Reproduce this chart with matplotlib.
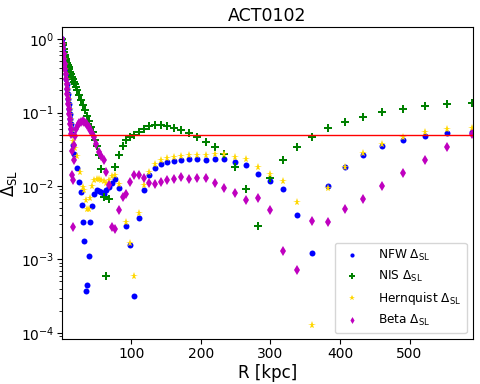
import matplotlib
matplotlib.use("Agg")
import matplotlib.pyplot as plt

# shared steep part near the centre
dense_delta = [1.0, 0.852, 0.729, 0.623, 0.532, 0.455, 0.389, 0.333, 0.284, 0.243,
               0.208, 0.177, 0.152, 0.130, 0.111, 0.0948, 0.0811, 0.0693, 0.0592, 0.0506]

nfw_r = [1.0, 1.7, 2.4, 3.2, 3.9, 4.6, 5.3, 6.0, 6.8, 7.5, 8.2, 8.9, 9.6, 10.4, 11.1, 11.8, 12.5, 13.2, 14.0, 14.7,
         16.4, 18.3, 21.6, 25.5, 27.9, 28.8, 30.2, 32.2, 34.5, 36.5,
         38.8, 41.3, 43.7, 47.1, 50.4, 53.2, 56.7, 60.4, 64.3, 68.6,
         72.9, 76.8, 82.0, 92.7, 98.4, 104.6, 111.8, 119.0, 126.2, 134.4,
         143.0, 151.7, 161.2, 171.8, 182.7, 194.2, 206.8, 219.7, 233.1, 248.6,
         264.3, 281.6, 298.8, 318.0, 338.1, 359.7, 382.7, 407.2, 433.1, 461.0,
         490.2, 521.9, 554.5, 590.5]
nfw = dense_delta + [
    0.0359, 0.0276, 0.0178, 0.0113, 0.0083, 0.00546, 0.00323, 0.00178, 0.000376, 0.000448,
    0.0011, 0.00323, 0.00529, 0.00787, 0.00873, 0.00855, 0.0083, 0.00787, 0.0087, 0.0097,
    0.0109, 0.0123, 0.0094, 0.00282, 0.00159, 0.000317, 0.00371, 0.00873, 0.0140, 0.0178,
    0.0202, 0.0212, 0.0219, 0.0224, 0.0236, 0.0236, 0.0229, 0.0235, 0.0231, 0.0215,
    0.0196, 0.01476, 0.0117, 0.0090, 0.00408, 0.00122, 0.0101, 0.0182, 0.0268, 0.0347,
    0.042, 0.048, 0.0522, 0.0544]

nis_r = [1.0, 1.7, 2.4, 3.1, 3.9, 4.6, 5.3, 6.0, 6.8, 7.8, 8.9, 10.0, 11.1, 12.5, 13.9, 15.3, 16.8, 18.2, 19.7, 21.1,
         22.6, 25.5, 28.3, 31.2, 34.1, 37.0, 39.9, 42.7, 45.6, 48.5,
         50.6, 53.2, 56.7, 60.4, 64.3, 68.6, 76.8, 82.0, 87.8, 92.7,
         98.8, 104.6, 111.8, 119.0, 126.2, 134.4, 143.0, 151.7, 161.2, 171.8,
         182.7, 194.2, 206.8, 219.7, 233.1, 248.6, 264.3, 281.6, 298.8, 318.0,
         338.1, 359.7, 382.7, 407.2, 433.1, 461.0, 490.2, 521.9, 554.5, 590.5]
nis = [1.0, 0.90, 0.826, 0.74, 0.66, 0.61, 0.57, 0.535, 0.50, 0.47, 0.44, 0.415, 0.39, 0.36, 0.33, 0.305, 0.284, 0.263, 0.243, 0.222,
       0.201, 0.172, 0.147, 0.126, 0.107, 0.089, 0.076, 0.063, 0.054, 0.042,
       0.0347, 0.0268, 0.0169, 0.0071, 0.00059, 0.0067, 0.0182, 0.0268, 0.0351, 0.042,
       0.0465, 0.0501, 0.0544, 0.0605, 0.065, 0.0678, 0.0671, 0.065, 0.0625, 0.0574,
       0.0534, 0.0471, 0.0398, 0.0342, 0.027, 0.0184, 0.0091, 0.00282, 0.01285, 0.0229,
       0.0344, 0.0465, 0.0611, 0.0745, 0.0882, 0.101, 0.112, 0.123, 0.130, 0.134]

hern_r = [1.0, 1.7, 2.5, 3.2, 4.0, 4.7, 5.4, 6.1, 6.9, 7.6, 8.4, 9.1, 9.8, 10.6, 11.3, 12.0, 12.8, 13.5, 14.3, 15.0,
          16.8, 19.0, 22.1, 26.5, 30.2, 32.2, 34.5, 36.5, 38.8, 41.3,
          43.7, 47.1, 50.4, 53.2, 56.7, 60.4, 64.3, 68.6, 72.9, 76.8,
          82.0, 92.7, 98.4, 104.6, 111.8, 119.0, 126.2, 134.4, 143.0, 151.7,
          161.2, 171.8, 182.7, 194.2, 206.8, 219.7, 233.1, 248.6, 264.3, 281.6,
          298.8, 318.0, 338.1, 359.7, 382.7, 407.2, 433.1, 461.0, 490.2, 521.9,
          554.5, 590.5]
hern = dense_delta + [
    0.0406, 0.0327, 0.0258, 0.0155, 0.0097, 0.0087, 0.0064, 0.0048, 0.0048, 0.0068,
    0.0099, 0.0122, 0.0126, 0.0125, 0.0120, 0.0116, 0.0109, 0.0120, 0.0136, 0.0140,
    0.0108, 0.00323, 0.00167, 0.00059, 0.00434, 0.0102, 0.0155, 0.0198, 0.0224, 0.0241,
    0.0248, 0.0254, 0.0268, 0.0268, 0.0262, 0.0270, 0.0270, 0.0248, 0.0231, 0.0180,
    0.0146, 0.0116, 0.00605, 0.000126, 0.0094, 0.0184, 0.0279, 0.0378, 0.0461, 0.0539,
    0.0592, 0.0625]

beta_r = [1.0, 1.6, 2.3, 3.0, 3.6, 4.3, 4.9, 5.6, 6.3, 6.9, 7.6, 8.2, 8.9, 9.6, 10.2, 10.9, 11.5, 12.2, 12.9, 13.5,
          14.4, 15.0, 15.8, 16.4, 17.3, 18.3, 19.4, 21.2, 23.3, 25.5,
          27.9, 30.2, 32.7, 34.8, 37.0, 39.1, 41.3, 43.7, 46.6, 48.9,
          53.2, 56.7, 60.4, 64.3, 68.6, 72.9, 76.8, 82.0, 87.8, 92.7,
          98.8, 104.6, 111.8, 119.0, 126.2, 134.4, 143.0, 151.7, 161.2, 171.8,
          182.7, 194.2, 206.8, 219.7, 233.6, 248.6, 264.3, 281.6, 298.8, 318.0,
          338.1, 359.7, 382.7, 407.2, 433.1, 461.0, 490.2, 521.9, 554.5, 590.5]
beta = dense_delta + [
    0.0297, 0.0140, 0.00274, 0.0120, 0.0224, 0.0358, 0.0475, 0.0592, 0.0671, 0.0726,
    0.075, 0.076, 0.075, 0.0726, 0.0682, 0.063, 0.0574, 0.0522, 0.046, 0.0378,
    0.0288, 0.0254, 0.0224, 0.0155, 0.0102, 0.00276, 0.00263, 0.00477, 0.0070, 0.00787,
    0.0113, 0.0140, 0.0143, 0.0129, 0.0110, 0.0105, 0.0112, 0.0120, 0.0123, 0.0133,
    0.0126, 0.0129, 0.0129, 0.0111, 0.0095, 0.0081, 0.00653, 0.0068, 0.00467, 0.0013,
    0.000726, 0.00333, 0.00325, 0.00492, 0.00665, 0.0099, 0.0152, 0.0229, 0.0344, 0.0506]

threshold = 0.05

fig = plt.figure(figsize=(4.8, 3.84), dpi=100)
ax = fig.add_axes([0.130, 0.117, 0.855, 0.813])

ax.plot(nfw_r, nfw, 'o', color='b', ms=4.3, mew=0, label=r'NFW $\Delta_{\mathrm{SL}}$')
ax.plot(nis_r, nis, 'P', color='g', ms=5.8, mew=0, label=r'NIS $\Delta_{\mathrm{SL}}$')
ax.plot(hern_r, hern, '*', color='gold', ms=5.8, mew=0, label=r'Hernquist $\Delta_{\mathrm{SL}}$')
ax.plot(beta_r, beta, 'd', color='m', ms=5, mew=0, label=r'Beta $\Delta_{\mathrm{SL}}$')
ax.axhline(threshold, color='r', linewidth=1)

ax.set_yscale('log')
ax.set_xlim(1, 591)
ax.set_ylim(8.2e-5, 1.47)
ax.tick_params(labelsize=10, pad=2.5)

ax.set_title('ACT0102', fontsize=12.5, pad=4)
ax.set_xlabel('R [kpc]', fontsize=12, labelpad=2)
ax.set_ylabel(r'$\Delta_{\mathrm{SL}}$', fontsize=12, labelpad=1)
ax.legend(loc='lower right', fontsize=8.7, markerscale=0.7, handletextpad=1.2)

fig.savefig('out.png', dpi=100)
